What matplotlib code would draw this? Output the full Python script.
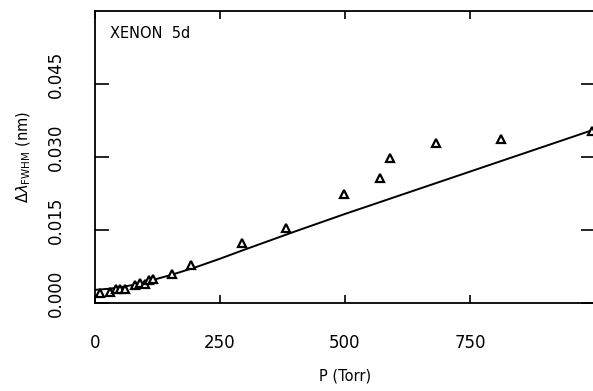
import matplotlib
matplotlib.use('Agg')
import matplotlib.pyplot as plt
from matplotlib.transforms import ScaledTranslation

# Measured points (pressure in Torr, FWHM in nm)
pressure = [10, 30, 42, 50, 60, 80, 90, 100, 108, 116, 154, 192, 294, 382,
            497, 569, 589, 682, 811, 993]
fwhm = [0.0020, 0.0023, 0.0029, 0.0028, 0.0029, 0.0036, 0.0042, 0.0040, 0.0047,
        0.0049, 0.0060, 0.0079, 0.0124, 0.0155, 0.0225, 0.0256, 0.0297, 0.0329,
        0.0337, 0.0353]

# Fitted curve
fit_p = [0, 25, 50, 75, 100, 125, 150, 200, 250, 300, 400, 500, 750, 1000]
fit_w = [0.0027, 0.0029, 0.0032, 0.0037, 0.0043, 0.0050, 0.0057, 0.0073, 0.0091,
         0.0110, 0.0147, 0.0183, 0.0270, 0.0357]

xticks = [0, 250, 500, 750]
yticks = [0.000, 0.015, 0.030, 0.045]
ytick_labels = ['0.000', '0.015', '0.030', '0.045']

fig = plt.figure(figsize=(5.93, 3.91), dpi=100)
ax = fig.add_axes([95 / 593, 1 - 303 / 391, 500 / 593, 292 / 391])

ax.plot(fit_p, fit_w, color='black', lw=1.4)
ax.plot(pressure, fwhm, linestyle='none', marker='^', markersize=5.5,
        markerfacecolor='white', markeredgecolor='black', markeredgewidth=1.6)

ax.set_xlim(0, 1000)
ax.set_ylim(0, 0.06)
ax.set_xticks(xticks)
ax.set_yticks(yticks)
ax.set_yticklabels(ytick_labels, rotation=90, va='center')

ax.tick_params(axis='both', direction='in', length=10, width=1.2,
               top=True, right=True, labelsize=12)
ax.tick_params(axis='x', pad=22, length=6)
ax.tick_params(axis='y', pad=22)
# labels sit a bit above their ticks, as in the original plotter output
shift = ScaledTranslation(0, 0.1, fig.dpi_scale_trans)
for lbl in ax.get_yticklabels():
    lbl.set_transform(lbl.get_transform() + shift)

for s in ax.spines.values():
    s.set_linewidth(1.3)

ax.text(0.03, 0.95, 'XENON  5d', transform=ax.transAxes, fontsize=10.5,
        va='top', ha='left')

ax.set_xlabel('P (Torr)', fontsize=10.5, labelpad=12)
ax.set_ylabel(r'$\Delta\lambda_{\rm FWHM}$ (nm)', fontsize=10.5, labelpad=10)

fig.savefig('out.png', dpi=100)
